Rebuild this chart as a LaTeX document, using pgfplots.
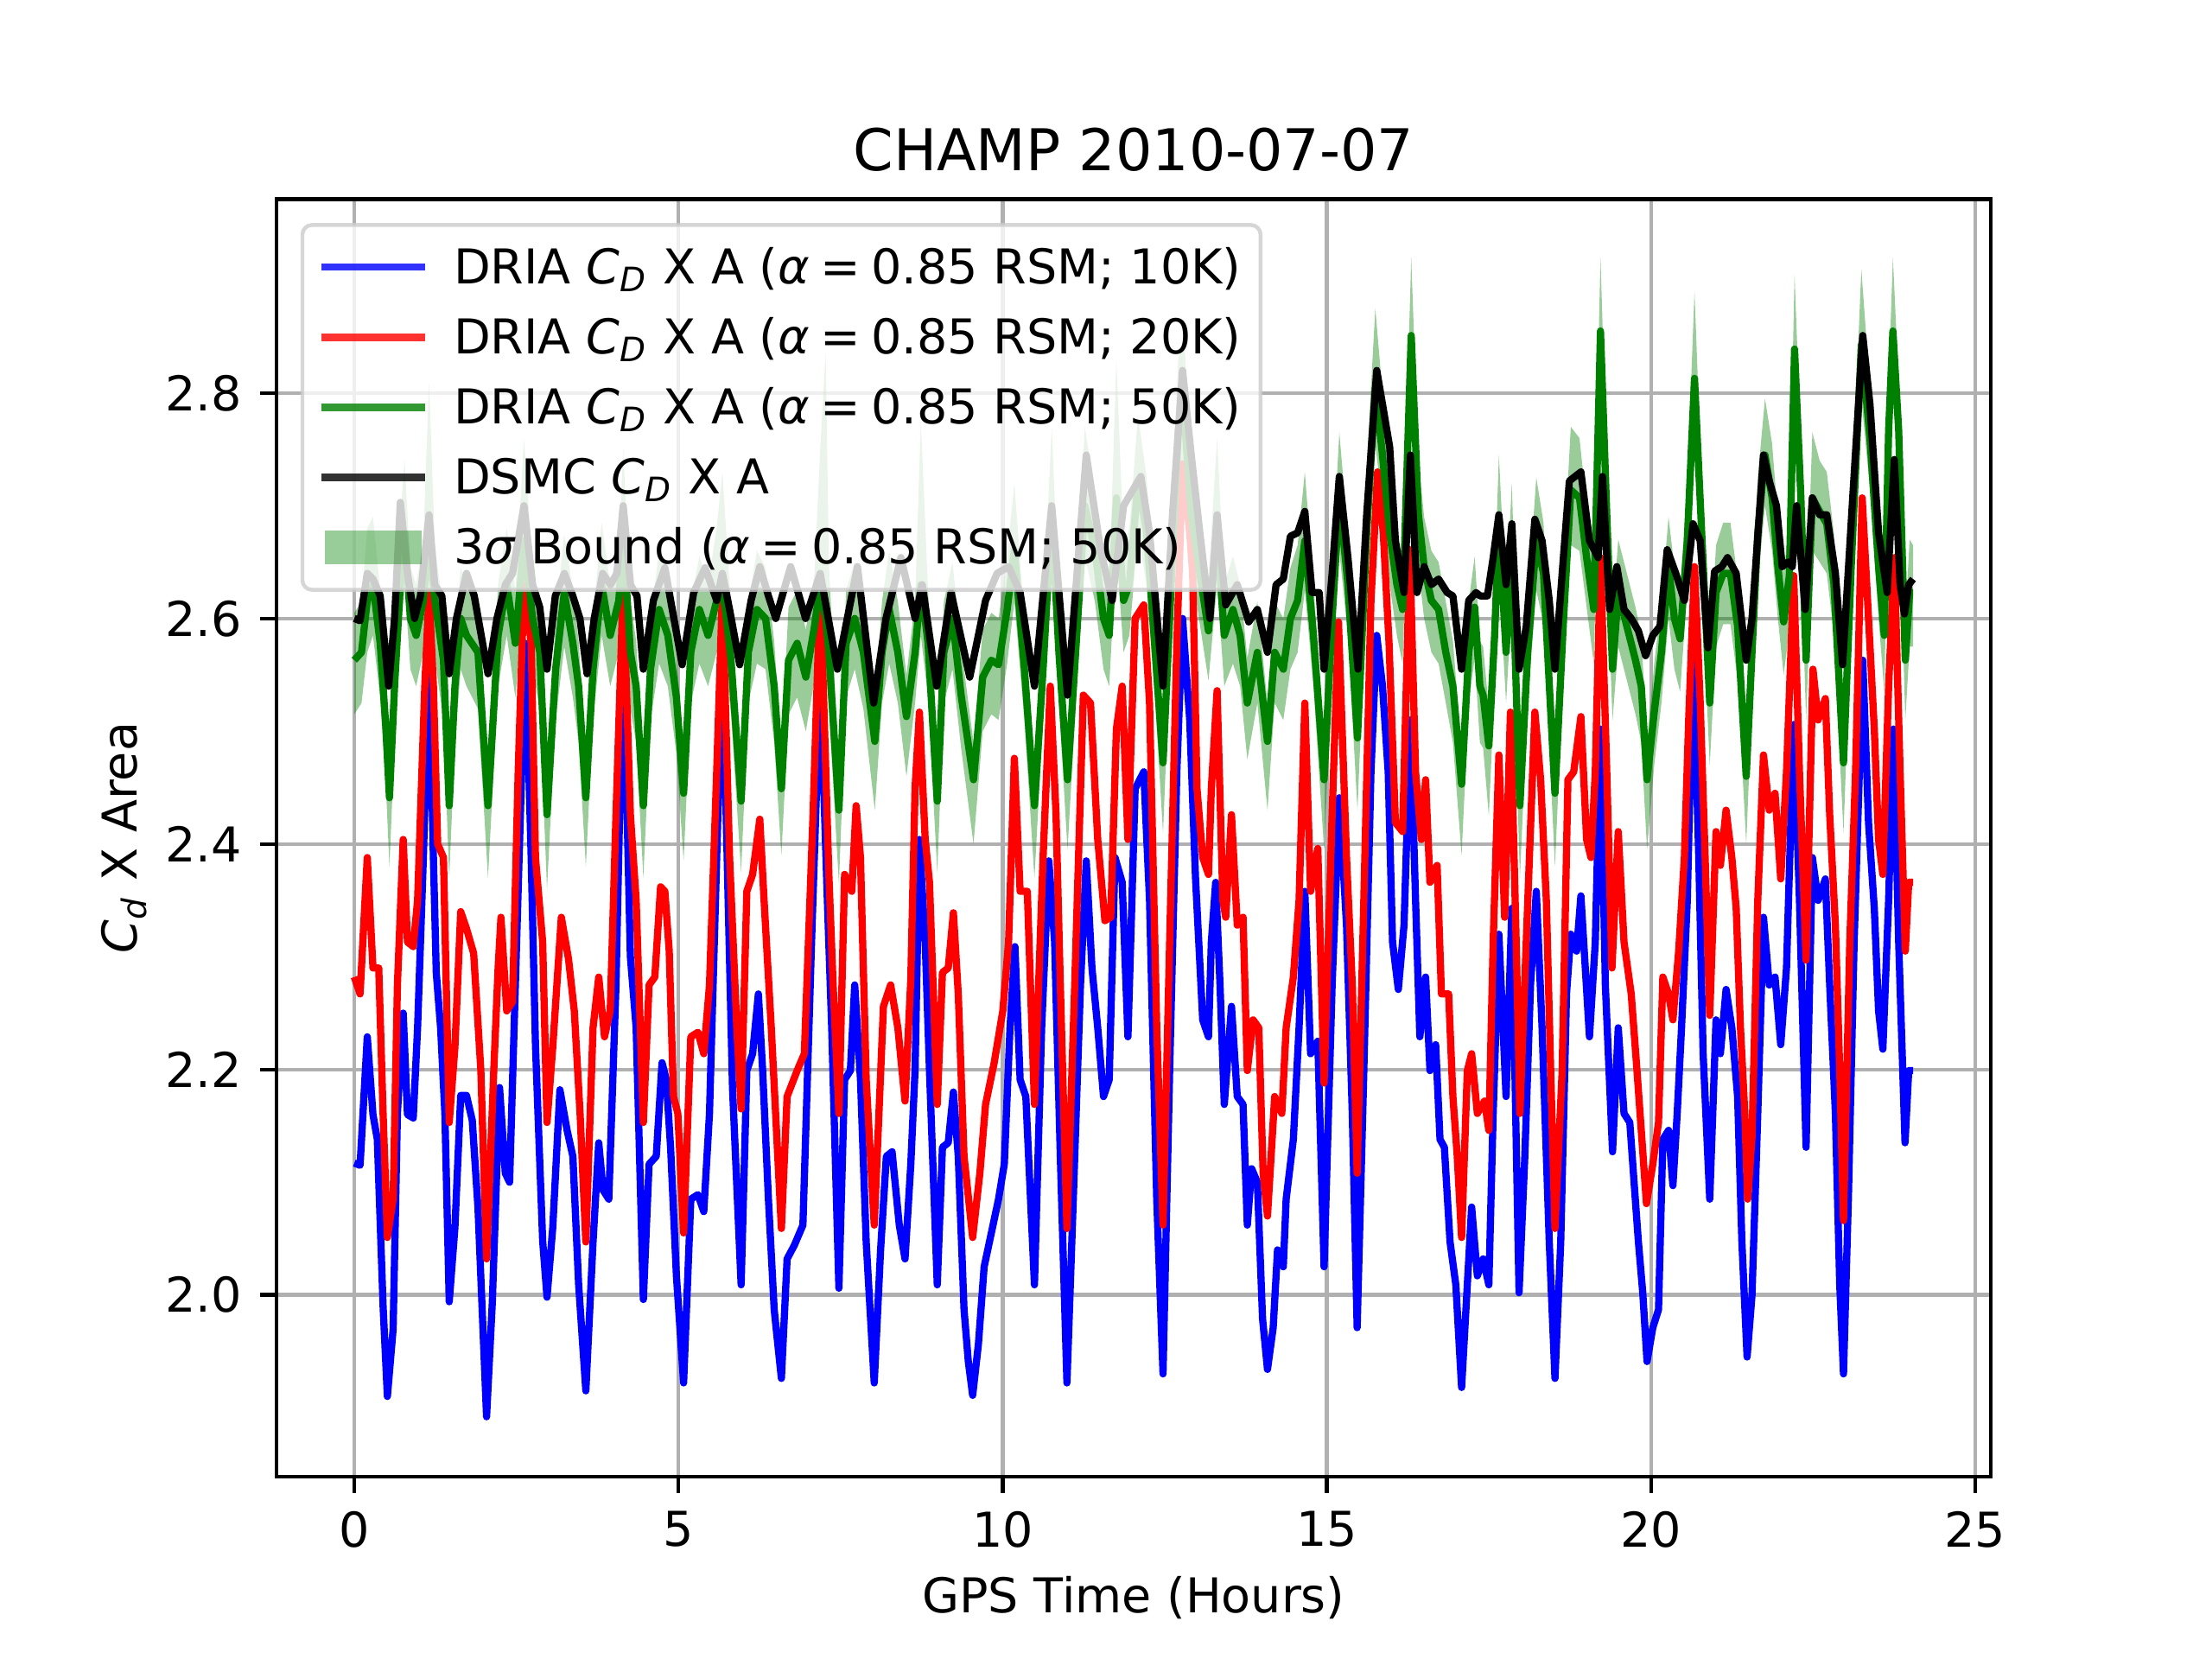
\documentclass[border=0pt]{standalone}
\usepackage{fontspec}
\setmainfont{DejaVu Sans}
\usepackage{pgfplots}
\usepackage{pgfplotstable}
\pgfplotsset{compat=1.18}
\usepgfplotslibrary{fillbetween}
\definecolor{mplblue}{RGB}{0,0,255}
\definecolor{mplred}{RGB}{255,0,0}
\definecolor{mplgreen}{RGB}{0,128,0}
\definecolor{gridgray}{RGB}{176,176,176}
\definecolor{legedge}{RGB}{204,204,204}
\newcommand{\eqs}{\hspace{2.2pt}=\hspace{2.2pt}}

\pgfplotstableread{
x y
0 2.117
0.089 2.115
0.2 2.229
0.288 2.16
0.355 2.138
0.444 1.99
0.51 1.91
0.599 1.97
0.665 2.161
0.754 2.25
0.82 2.16
0.909 2.157
0.976 2.237
1.065 2.388
1.153 2.563
1.22 2.388
1.264 2.286
1.331 2.237
1.397 2.161
1.464 1.994
1.552 2.06
1.641 2.177
1.73 2.177
1.819 2.155
1.907 2.078
2.04 1.892
2.129 1.994
2.24 2.184
2.329 2.108
2.395 2.1
2.484 2.275
2.639 2.578
2.728 2.388
2.794 2.222
2.905 2.048
2.972 1.998
3.061 2.06
3.171 2.182
3.282 2.146
3.371 2.123
3.46 2.009
3.571 1.915
3.682 2.047
3.77 2.135
3.837 2.093
3.925 2.085
4.036 2.275
4.147 2.578
4.258 2.3
4.347 2.237
4.458 1.996
4.546 2.116
4.657 2.123
4.746 2.206
4.812 2.191
4.879 2.13
4.968 2.017
5.079 1.922
5.19 2.085
5.3 2.089
5.39 2.074
5.478 2.161
5.589 2.388
5.677 2.57
5.766 2.35
5.833 2.184
5.966 2.009
6.054 2.199
6.143 2.214
6.232 2.267
6.298 2.199
6.387 2.085
6.476 1.987
6.587 1.926
6.675 2.032
6.786 2.044
6.919 2.062
7.052 2.313
7.186 2.548
7.296 2.35
7.363 2.237
7.474 2.006
7.562 2.191
7.651 2.199
7.718 2.275
7.807 2.191
7.895 2.047
8.019 1.922
8.117 2.04
8.206 2.123
8.294 2.127
8.405 2.062
8.494 2.032
8.583 2.116
8.649 2.2
8.716 2.404
8.805 2.313
8.871 2.199
8.991 2.009
9.071 2.131
9.16 2.135
9.24 2.18
9.315 2.123
9.404 1.987
9.47 1.941
9.537 1.911
9.625 1.956
9.714 2.025
9.825 2.055
9.936 2.085
10.025 2.116
10.113 2.237
10.189 2.309
10.269 2.191
10.357 2.176
10.49 2.009
10.601 2.237
10.712 2.385
10.801 2.313
10.889 2.123
10.991 1.922
11.089 2.085
11.2 2.275
11.289 2.385
11.377 2.29
11.466 2.237
11.555 2.176
11.643 2.191
11.732 2.388
11.843 2.366
11.932 2.229
12.043 2.449
12.176 2.464
12.265 2.35
12.376 2.085
12.473 1.93
12.575 2.199
12.686 2.464
12.774 2.6
12.885 2.51
12.974 2.37
13.085 2.244
13.174 2.229
13.218 2.313
13.285 2.366
13.352 2.275
13.418 2.169
13.529 2.256
13.618 2.176
13.707 2.169
13.773 2.062
13.84 2.112
13.928 2.1
14.008 1.979
14.084 1.934
14.172 1.971
14.239 2.04
14.328 2.025
14.372 2.085
14.483 2.138
14.571 2.237
14.66 2.358
14.749 2.214
14.86 2.225
14.957 2.025
15.081 2.275
15.192 2.441
15.303 2.328
15.392 2.161
15.467 1.971
15.57 2.199
15.68 2.464
15.769 2.585
15.858 2.54
15.946 2.464
16.013 2.313
16.102 2.271
16.19 2.328
16.288 2.51
16.368 2.35
16.434 2.229
16.523 2.282
16.59 2.199
16.678 2.222
16.745 2.138
16.812 2.131
16.9 2.047
16.989 2.009
17.078 1.918
17.166 2.009
17.233 2.078
17.321 2.017
17.41 2.032
17.498 2.009
17.565 2.161
17.653 2.32
17.764 2.176
17.853 2.343
17.964 2.002
18.053 2.123
18.141 2.275
18.23 2.358
18.319 2.237
18.43 2.047
18.518 1.926
18.607 2.047
18.696 2.267
18.762 2.32
18.851 2.305
18.918 2.354
19.05 2.229
19.14 2.313
19.22 2.502
19.295 2.275
19.406 2.127
19.494 2.237
19.583 2.161
19.672 2.153
19.738 2.1
19.805 2.047
19.872 2.002
19.938 1.941
20.027 1.971
20.115 1.987
20.182 2.138
20.27 2.146
20.337 2.097
20.403 2.161
20.47 2.237
20.559 2.35
20.648 2.57
20.736 2.388
20.803 2.214
20.905 2.085
21.002 2.244
21.069 2.214
21.157 2.271
21.246 2.237
21.335 2.176
21.401 2.047
21.481 1.945
21.557 2.0
21.646 2.161
21.734 2.335
21.823 2.275
21.912 2.282
22.0 2.222
22.089 2.29
22.2 2.506
22.289 2.35
22.391 2.131
22.488 2.388
22.577 2.35
22.688 2.369
22.755 2.275
22.843 2.161
22.91 2.009
22.968 1.93
23.043 2.085
23.132 2.313
23.265 2.563
23.354 2.419
23.443 2.343
23.509 2.252
23.575 2.218
23.664 2.35
23.739 2.502
23.819 2.313
23.917 2.135
23.974 2.199
24.041 2.199
}\tblue

\pgfplotstableread{
x y
0 2.282
0.089 2.267
0.2 2.388
0.288 2.29
0.377 2.29
0.444 2.161
0.51 2.051
0.599 2.085
0.665 2.275
0.754 2.404
0.82 2.313
0.909 2.309
0.976 2.35
1.087 2.54
1.153 2.623
1.22 2.54
1.286 2.4
1.375 2.388
1.464 2.153
1.552 2.22
1.641 2.34
1.73 2.325
1.841 2.303
1.952 2.199
2.04 2.032
2.151 2.199
2.218 2.29
2.262 2.335
2.351 2.252
2.44 2.26
2.528 2.465
2.617 2.63
2.728 2.578
2.794 2.388
2.905 2.313
2.972 2.153
3.061 2.22
3.193 2.335
3.304 2.298
3.393 2.252
3.482 2.161
3.571 2.047
3.682 2.237
3.77 2.282
3.859 2.229
3.947 2.252
4.036 2.426
4.147 2.63
4.258 2.426
4.347 2.35
4.458 2.153
4.546 2.275
4.635 2.282
4.724 2.362
4.79 2.358
4.857 2.305
4.923 2.176
4.99 2.161
5.079 2.055
5.19 2.229
5.3 2.233
5.39 2.214
5.478 2.275
5.589 2.464
5.677 2.623
5.788 2.388
5.899 2.237
5.966 2.165
6.054 2.358
6.143 2.373
6.254 2.422
6.32 2.35
6.431 2.237
6.498 2.161
6.587 2.059
6.675 2.176
6.83 2.199
6.941 2.214
7.075 2.426
7.186 2.631
7.319 2.373
7.385 2.275
7.474 2.161
7.562 2.373
7.673 2.358
7.74 2.434
7.807 2.388
7.895 2.191
8.019 2.062
8.161 2.256
8.272 2.275
8.383 2.237
8.494 2.172
8.583 2.28
8.649 2.45
8.716 2.517
8.805 2.404
8.871 2.366
8.991 2.169
9.071 2.286
9.16 2.29
9.24 2.339
9.315 2.267
9.404 2.123
9.537 2.051
9.648 2.108
9.736 2.169
9.869 2.206
10.002 2.252
10.091 2.313
10.18 2.476
10.269 2.358
10.38 2.358
10.49 2.169
10.623 2.388
10.734 2.54
10.823 2.426
10.889 2.275
10.991 2.059
11.111 2.275
11.244 2.532
11.355 2.525
11.466 2.404
11.577 2.332
11.666 2.335
11.754 2.502
11.843 2.54
11.932 2.404
12.043 2.6
12.176 2.612
12.265 2.525
12.376 2.237
12.473 2.062
12.575 2.313
12.686 2.578
12.774 2.737
12.885 2.676
12.93 2.64
12.997 2.449
13.085 2.388
13.174 2.373
13.218 2.449
13.307 2.536
13.396 2.35
13.44 2.335
13.529 2.426
13.618 2.328
13.707 2.335
13.773 2.199
13.862 2.244
13.95 2.237
14.017 2.108
14.084 2.07
14.195 2.176
14.305 2.161
14.372 2.237
14.483 2.282
14.571 2.35
14.66 2.525
14.749 2.358
14.86 2.396
14.957 2.188
15.081 2.426
15.179 2.597
15.303 2.388
15.392 2.275
15.467 2.108
15.57 2.35
15.68 2.616
15.782 2.73
15.87 2.676
15.959 2.578
16.057 2.419
16.168 2.411
16.279 2.661
16.368 2.464
16.457 2.404
16.523 2.457
16.59 2.366
16.7 2.381
16.767 2.267
16.878 2.267
16.944 2.176
17.011 2.123
17.078 2.051
17.166 2.199
17.233 2.214
17.321 2.161
17.432 2.172
17.498 2.146
17.565 2.313
17.653 2.479
17.742 2.335
17.831 2.517
17.92 2.313
17.977 2.161
18.075 2.313
18.208 2.517
18.297 2.457
18.385 2.35
18.452 2.199
18.518 2.059
18.629 2.199
18.718 2.457
18.807 2.464
18.918 2.513
19.006 2.404
19.073 2.388
19.14 2.464
19.22 2.654
19.317 2.464
19.397 2.29
19.494 2.411
19.583 2.313
19.694 2.267
19.783 2.199
19.849 2.146
19.929 2.081
20.027 2.116
20.115 2.153
20.182 2.282
20.27 2.267
20.337 2.244
20.426 2.305
20.514 2.388
20.58 2.51
20.67 2.646
20.758 2.525
20.834 2.388
20.905 2.248
21.002 2.411
21.069 2.381
21.157 2.43
21.246 2.388
21.313 2.343
21.379 2.237
21.446 2.161
21.49 2.085
21.557 2.14
21.646 2.35
21.734 2.479
21.823 2.43
21.912 2.445
22.0 2.369
22.089 2.464
22.2 2.638
22.289 2.464
22.391 2.297
22.497 2.555
22.577 2.51
22.688 2.529
22.755 2.426
22.843 2.328
22.91 2.199
22.968 2.066
23.065 2.313
23.154 2.464
23.256 2.707
23.354 2.6
23.443 2.502
23.509 2.404
23.575 2.373
23.664 2.54
23.752 2.654
23.841 2.464
23.921 2.305
23.974 2.366
24.041 2.366
}\tred

\pgfplotstableread{
x g lo hi
0 2.563 2.515 2.605
0.111 2.570 2.525 2.615
0.2 2.616 2.57 2.68
0.288 2.63 2.585 2.69
0.399 2.578 2.53 2.625
0.488 2.502 2.45 2.545
0.542 2.441 2.38 2.475
0.621 2.54 2.49 2.585
0.71 2.63 2.585 2.69
0.776 2.676 2.63 2.74
0.865 2.60 2.555 2.645
0.954 2.585 2.54 2.63
1.065 2.616 2.57 2.67
1.153 2.669 2.625 2.81
1.242 2.616 2.565 2.665
1.375 2.563 2.51 2.605
1.464 2.434 2.37 2.465
1.552 2.54 2.49 2.585
1.641 2.60 2.555 2.645
1.73 2.585 2.54 2.63
1.907 2.570 2.52 2.61
2.062 2.434 2.37 2.465
2.218 2.585 2.54 2.63
2.351 2.63 2.585 2.68
2.484 2.578 2.53 2.625
2.617 2.669 2.62 2.76
2.75 2.60 2.555 2.645
2.861 2.570 2.52 2.61
2.972 2.426 2.36 2.46
3.105 2.555 2.51 2.6
3.238 2.623 2.575 2.675
3.371 2.578 2.53 2.625
3.46 2.540 2.49 2.58
3.571 2.441 2.38 2.475
3.682 2.555 2.51 2.6
3.815 2.63 2.585 2.685
3.947 2.585 2.54 2.63
4.08 2.616 2.57 2.665
4.147 2.676 2.63 2.75
4.258 2.570 2.52 2.615
4.347 2.540 2.49 2.58
4.458 2.434 2.37 2.47
4.568 2.555 2.51 2.6
4.702 2.608 2.56 2.66
4.835 2.585 2.54 2.63
4.968 2.53 2.48 2.57
5.079 2.445 2.385 2.48
5.19 2.570 2.525 2.615
5.322 2.608 2.56 2.655
5.456 2.585 2.54 2.63
5.589 2.616 2.57 2.68
5.677 2.63 2.585 2.73
5.81 2.563 2.515 2.61
5.966 2.438 2.375 2.47
6.077 2.570 2.525 2.615
6.21 2.608 2.56 2.66
6.343 2.60 2.555 2.645
6.476 2.54 2.49 2.58
6.587 2.449 2.39 2.485
6.697 2.563 2.515 2.61
6.83 2.578 2.53 2.625
6.964 2.548 2.5 2.59
7.097 2.593 2.545 2.64
7.186 2.63 2.585 2.75
7.27 2.60 2.555 2.836
7.319 2.570 2.52 2.65
7.474 2.43 2.365 2.465
7.585 2.578 2.53 2.625
7.718 2.60 2.555 2.65
7.851 2.570 2.52 2.615
8.028 2.491 2.43 2.525
8.139 2.570 2.525 2.615
8.25 2.608 2.56 2.66
8.383 2.570 2.525 2.615
8.516 2.513 2.46 2.55
8.649 2.570 2.525 2.615
8.738 2.63 2.585 2.775
8.849 2.578 2.53 2.625
8.991 2.438 2.375 2.47
9.093 2.570 2.525 2.615
9.226 2.60 2.555 2.65
9.359 2.532 2.485 2.575
9.55 2.457 2.4 2.49
9.692 2.548 2.5 2.59
9.825 2.563 2.515 2.605
9.936 2.559 2.51 2.6
10.069 2.608 2.56 2.655
10.18 2.661 2.615 2.72
10.335 2.555 2.51 2.6
10.49 2.434 2.37 2.47
10.623 2.555 2.51 2.6
10.756 2.692 2.645 2.77
10.867 2.570 2.525 2.615
11.0 2.457 2.395 2.49
11.134 2.578 2.53 2.625
11.267 2.70 2.655 2.77
11.422 2.661 2.615 2.71
11.555 2.60 2.555 2.645
11.643 2.585 2.54 2.63
11.754 2.707 2.66 2.83
11.865 2.616 2.57 2.665
11.954 2.63 2.585 2.68
12.087 2.722 2.675 2.78
12.22 2.676 2.63 2.725
12.353 2.570 2.525 2.615
12.473 2.472 2.41 2.505
12.575 2.60 2.555 2.65
12.708 2.767 2.72 2.83
12.797 2.783 2.735 2.85
12.908 2.692 2.645 2.74
13.041 2.64 2.595 2.685
13.174 2.589 2.545 2.635
13.307 2.676 2.63 2.76
13.418 2.585 2.54 2.63
13.551 2.608 2.56 2.655
13.662 2.585 2.54 2.63
13.773 2.525 2.475 2.565
13.928 2.570 2.525 2.615
14.084 2.491 2.43 2.525
14.195 2.570 2.525 2.615
14.328 2.555 2.51 2.6
14.438 2.60 2.555 2.645
14.549 2.616 2.57 2.665
14.66 2.669 2.625 2.73
14.793 2.585 2.54 2.63
14.957 2.457 2.395 2.49
15.081 2.60 2.555 2.645
15.192 2.707 2.66 2.765
15.325 2.63 2.585 2.675
15.472 2.494 2.43 2.525
15.614 2.676 2.63 2.735
15.747 2.805 2.755 2.875
15.858 2.745 2.7 2.8
15.969 2.676 2.63 2.72
16.08 2.63 2.585 2.675
16.168 2.608 2.56 2.65
16.301 2.851 2.8 2.92
16.412 2.692 2.645 2.74
16.5 2.646 2.6 2.69
16.612 2.616 2.57 2.66
16.723 2.608 2.56 2.65
16.834 2.570 2.525 2.615
16.944 2.54 2.49 2.58
17.078 2.453 2.39 2.485
17.188 2.570 2.525 2.615
17.28 2.61 2.565 2.655
17.36 2.54 2.49 2.58
17.41 2.532 2.485 2.575
17.498 2.487 2.425 2.52
17.587 2.585 2.54 2.63
17.653 2.684 2.64 2.745
17.764 2.570 2.525 2.615
17.853 2.661 2.615 2.72
17.977 2.434 2.37 2.47
18.097 2.570 2.525 2.615
18.23 2.669 2.625 2.725
18.341 2.64 2.595 2.685
18.518 2.445 2.38 2.48
18.651 2.60 2.555 2.65
18.762 2.714 2.665 2.77
18.896 2.707 2.66 2.76
19.006 2.654 2.61 2.7
19.117 2.608 2.56 2.655
19.22 2.855 2.8 2.92
19.317 2.692 2.645 2.74
19.406 2.555 2.51 2.6
19.494 2.623 2.575 2.67
19.627 2.593 2.545 2.64
19.76 2.563 2.515 2.61
19.849 2.54 2.49 2.585
19.938 2.457 2.395 2.49
20.049 2.517 2.47 2.56
20.16 2.570 2.525 2.615
20.27 2.646 2.6 2.69
20.36 2.60 2.555 2.645
20.448 2.582 2.535 2.625
20.559 2.669 2.625 2.72
20.67 2.813 2.765 2.89
20.781 2.676 2.63 2.72
20.905 2.525 2.47 2.56
21.002 2.623 2.575 2.665
21.113 2.64 2.595 2.685
21.224 2.64 2.595 2.685
21.335 2.593 2.545 2.635
21.468 2.46 2.4 2.495
21.557 2.570 2.525 2.615
21.646 2.676 2.63 2.725
21.757 2.745 2.7 2.795
21.867 2.707 2.66 2.755
21.956 2.646 2.6 2.69
22.045 2.597 2.55 2.64
22.133 2.638 2.59 2.685
22.213 2.839 2.79 2.905
22.311 2.707 2.66 2.755
22.391 2.563 2.51 2.6
22.488 2.707 2.66 2.765
22.6 2.695 2.65 2.74
22.71 2.684 2.64 2.73
22.821 2.63 2.585 2.675
22.968 2.472 2.41 2.505
23.087 2.646 2.6 2.69
23.243 2.843 2.795 2.91
23.376 2.76 2.715 2.805
23.509 2.646 2.6 2.69
23.597 2.585 2.535 2.625
23.664 2.767 2.72 2.81
23.73 2.855 2.805 2.92
23.819 2.767 2.72 2.81
23.921 2.563 2.51 2.6
23.988 2.623 2.575 2.67
24.041 2.623 2.575 2.665
}\tgreen

\pgfplotstableread{
x y
0 2.6
0.089 2.598
0.2 2.64
0.288 2.635
0.399 2.62
0.53 2.54
0.621 2.6
0.71 2.703
0.82 2.64
0.93 2.6
1.02 2.62
1.153 2.692
1.24 2.63
1.35 2.62
1.464 2.551
1.575 2.6
1.73 2.64
1.85 2.62
2.062 2.551
2.2 2.6
2.33 2.63
2.44 2.64
2.617 2.7
2.75 2.63
2.86 2.61
2.972 2.555
3.1 2.62
3.24 2.64
3.37 2.62
3.48 2.6
3.59 2.551
3.7 2.6
3.83 2.64
3.95 2.63
4.05 2.64
4.147 2.7
4.26 2.63
4.36 2.62
4.458 2.555
4.613 2.616
4.79 2.645
4.879 2.616
5.057 2.559
5.234 2.623
5.411 2.645
5.589 2.616
5.677 2.64
5.788 2.608
5.944 2.559
6.12 2.616
6.254 2.646
6.387 2.62
6.5 2.6
6.73 2.646
6.96 2.6
7.186 2.64
7.45 2.555
7.76 2.646
8.01 2.525
8.2 2.6
8.43 2.654
8.65 2.6
8.76 2.63
8.982 2.54
9.204 2.623
9.492 2.548
9.736 2.616
9.914 2.64
10.091 2.646
10.269 2.623
10.49 2.54
10.756 2.7
11.0 2.532
11.289 2.745
11.51 2.661
11.688 2.616
11.865 2.7
12.131 2.726
12.265 2.676
12.473 2.54
12.619 2.692
12.774 2.82
12.908 2.745
13.041 2.676
13.196 2.6
13.307 2.692
13.44 2.612
13.618 2.63
13.795 2.597
13.928 2.608
14.084 2.57
14.217 2.63
14.328 2.635
14.438 2.673
14.549 2.676
14.66 2.695
14.771 2.623
14.882 2.623
14.957 2.555
15.081 2.64
15.192 2.726
15.325 2.654
15.481 2.555
15.614 2.692
15.769 2.82
15.858 2.79
15.969 2.752
16.057 2.669
16.19 2.623
16.288 2.745
16.39 2.623
16.5 2.646
16.612 2.63
16.723 2.635
16.856 2.623
16.944 2.62
17.078 2.555
17.188 2.616
17.3 2.623
17.365 2.62
17.476 2.62
17.565 2.654
17.653 2.692
17.764 2.63
17.853 2.684
17.964 2.555
18.075 2.593
18.208 2.688
18.319 2.669
18.43 2.616
18.518 2.555
18.629 2.64
18.74 2.722
18.918 2.73
19.05 2.669
19.184 2.654
19.25 2.726
19.361 2.608
19.472 2.646
19.583 2.608
19.694 2.6
19.805 2.589
19.916 2.567
20.027 2.585
20.138 2.593
20.249 2.661
20.381 2.64
20.514 2.616
20.648 2.684
20.758 2.669
20.878 2.574
20.98 2.642
21.091 2.646
21.18 2.654
21.313 2.64
21.468 2.563
21.557 2.6
21.734 2.745
21.823 2.722
21.934 2.7
22.023 2.646
22.112 2.65
22.178 2.646
22.245 2.7
22.378 2.608
22.488 2.707
22.6 2.692
22.71 2.692
22.843 2.64
22.954 2.559
23.11 2.707
23.265 2.851
23.376 2.79
23.509 2.676
23.642 2.623
23.752 2.741
23.841 2.63
23.908 2.604
23.974 2.63
24.041 2.635
}\tblack

\begin{document}
\begin{tikzpicture}
\begin{axis}[
  at={(0pt,0pt)}, anchor=south west,
  width=357.12pt, height=266.112pt, scale only axis,
  xmin=-1.2, xmax=25.24, ymin=1.839, ymax=2.972,
  xtick={0,5,10,15,20,25}, ytick={2.0,2.2,2.4,2.6,2.8},
  tick pos=left, tick align=outside, major tick length=3.5pt,
  every tick/.style={black, line width=0.8pt},
  axis line style={line width=0.8pt},
  grid=major, major grid style={gridgray, line width=0.8pt},
  /pgf/number format/assume math mode=true,
  ticklabel style={font=\fontsize{10}{12}\selectfont, inner sep=0pt},
  yticklabel style={/pgf/number format/fixed, /pgf/number format/fixed zerofill, /pgf/number format/precision=1},
  xticklabel shift=3.5pt, yticklabel shift=3.5pt,
  title={CHAMP 2010-07-07},
  every axis title/.style={at={(0.5,1)}, anchor=base, yshift=6pt, inner sep=0pt, font=\fontsize{12}{14}\selectfont},
  xlabel={GPS Time (Hours)},
  ylabel={\textit{C}\textsubscript{\textit{d}} X Area},
  xlabel style={at={(axis description cs:0.5,-0.1067)}, anchor=base, inner sep=0pt, font=\fontsize{10}{12}\selectfont},
  ylabel style={at={(axis description cs:-0.0812,0.5)}, anchor=base, inner sep=0pt, font=\fontsize{10}{12}\selectfont},
  legend cell align=left,
  legend style={at={(0,1)}, anchor=north west, xshift=5pt, yshift=-5pt,
    draw=legedge, line width=0.8pt, rounded corners=2pt,
    fill=white, fill opacity=0.8, draw opacity=0.8, text opacity=1,
    font=\fontsize{10}{12}\selectfont,
    inner xsep=4pt, inner ysep=3.8pt, row sep=4.6pt, column sep=6pt,
    nodes={inner sep=0pt, text height=8.4pt, text depth=1.6pt}},
  legend image code/.code={\draw[#1, line cap=rect, line width=1.5pt, sharp corners] (0pt,0pt) -- (20pt,0pt);},
]
\addplot[draw=none, forget plot, name path=hi] table[x=x, y=hi]{\tgreen};
\addplot[draw=none, forget plot, name path=lo] table[x=x, y=lo]{\tgreen};
\addplot[fill=mplgreen, fill opacity=0.4, draw=none, forget plot] fill between[of=hi and lo];

\addplot[mplblue, line width=1.5pt, line join=round] table[x=x, y=y]{\tblue};
\addlegendentry{DRIA \textit{C}\textsubscript{\textit{D}} X A (\textit{α}\eqs0.85 RSM; 10K)}
\addplot[mplred, line width=1.5pt, line join=round] table[x=x, y=y]{\tred};
\addlegendentry{DRIA \textit{C}\textsubscript{\textit{D}} X A (\textit{α}\eqs0.85 RSM; 20K)}
\addplot[mplgreen, line width=1.5pt, line join=round] table[x=x, y=g]{\tgreen};
\addlegendentry{DRIA \textit{C}\textsubscript{\textit{D}} X A (\textit{α}\eqs0.85 RSM; 50K)}
\addplot[black, line width=1.5pt, line join=round] table[x=x, y=y]{\tblack};
\addlegendentry{DSMC \textit{C}\textsubscript{\textit{D}} X A}
\addlegendimage{draw=none, legend image code/.code={\path[draw=none] (0pt,0pt) -- (20pt,0pt); \path[fill=mplgreen, fill opacity=0.4, draw=none, sharp corners] (0pt,-3.5pt) rectangle (20pt,3.5pt);}}
\addlegendentry{3\textit{σ} Bound (\textit{α}\eqs0.85 RSM; 50K)}
\end{axis}
\pgfresetboundingbox
\useasboundingbox (-57.6pt,-38.016pt) rectangle (403.2pt,307.584pt);
\end{tikzpicture}
\end{document}
